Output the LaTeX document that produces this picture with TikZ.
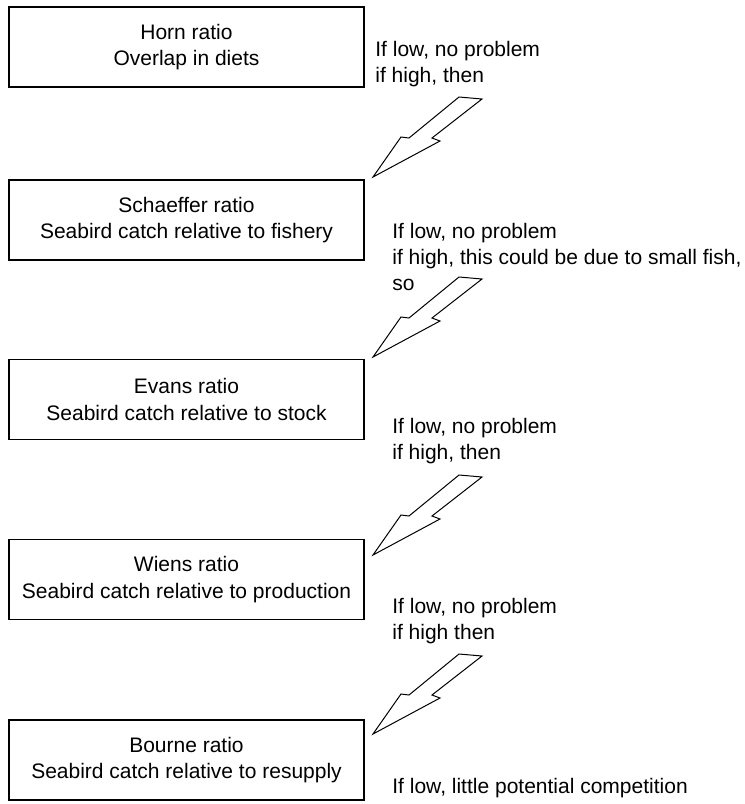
\documentclass[tikz,border=0pt]{standalone}
\usepackage{fontspec}
\setmainfont{Liberation Sans}
\usetikzlibrary{positioning}
\tikzset{
  ratiobox/.style={
    draw,
    line width=0.7pt,
    minimum width=177.5pt,
    minimum height=40pt,
    align=center,
    font=\fontsize{10.5}{13.3}\selectfont,
    inner sep=0pt
  },
  cue/.style={anchor=west, align=left, font=\fontsize{10.5}{13}\selectfont, inner sep=0pt},
  zapline/.style={draw, line width=0.5pt, line join=miter},
  zap/.pic={\draw[zapline] (0,0) -- (28,-40) -- (36,-39) -- (86,-80) -- (109,-78) -- (59,-39) -- (67,-36) -- cycle;},
}

\begin{document}
\begin{tikzpicture}[x=0.5pt, y=-0.5pt]
\useasboundingbox (0,0) rectangle (745,804);

% Ratio boxes
\node[ratiobox] (horn) at (186.5,47) {Horn ratio\\Overlap in diets};
\node[ratiobox] (schaeffer) at (186.5,220) {Schaeffer ratio\\Seabird catch relative to fishery};
\node[ratiobox] (evans) at (186.5,399.5) {Evans ratio\\Seabird catch relative to stock};
\node[ratiobox] (wiens) at (186.5,579.5) {Wiens ratio\\Seabird catch relative to production};
\node[ratiobox] (bourne) at (186.5,760) {Bourne ratio\\Seabird catch relative to resupply};

% Decision notes
\node[cue] (hornnote) at (375,64) {If low, no problem\\if high, then};
\node[cue] (schaeffernote) at (392,257) {If low, no problem\\if high, this could be due to small fish,\\so};
\node[cue] (evansnote) at (392,441) {If low, no problem\\if high, then};
\node[cue] (wiensnote) at (392,621) {If low, no problem\\if high then};
\node[cue] (bournenote) at (392,788) {If low, little potential competition};

% Zig-zag arrows
\coordinate (tip1) at (373,177);
\coordinate (tip2) at (373,357);
\coordinate (tip3) at (373,555);
\coordinate (tip4) at (373,734);
\foreach \t in {tip1,tip2,tip3,tip4}
  \pic at (\t) {zap};

\end{tikzpicture}
\end{document}
